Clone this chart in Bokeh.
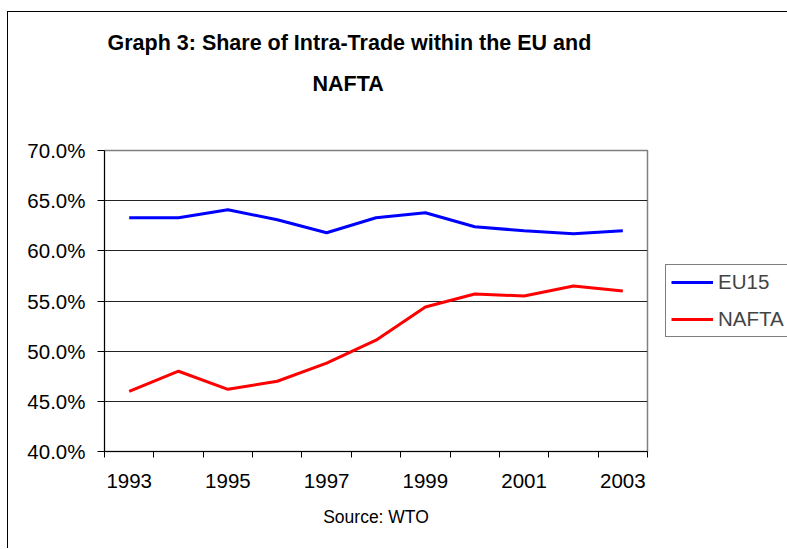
from bokeh.plotting import figure
from bokeh.models import (FixedTicker, PrintfTickFormatter, Legend, Title,
                          LegendItem, Range1d, ColumnDataSource)
from bokeh.embed import file_html
from bokeh.resources import INLINE

# ---- data ----
years = [1993, 1994, 1995, 1996, 1997, 1998, 1999, 2000, 2001, 2002, 2003]
eu15 = [63.3, 63.3, 64.1, 63.1, 61.8, 63.3, 63.8, 62.4, 62.0, 61.7, 62.0]
nafta = [46.0, 48.0, 46.2, 47.0, 48.8, 51.1, 54.4, 55.7, 55.5, 56.5, 56.0]
y_ticks = [40, 45, 50, 55, 60, 65, 70]
title_lines = ["Graph 3: Share of Intra-Trade within the EU and", "NAFTA"]
source_text = "Source: WTO"

FONT = "Liberation Sans"

idx = list(range(len(years)))
src = ColumnDataSource(data=dict(x=idx, eu15=eu15, nafta=nafta))

p = figure(frame_width=543, frame_height=301,
           min_border_left=96, min_border_right=139,
           min_border_top=138, min_border_bottom=97,
           x_range=Range1d(-0.5, len(years) - 0.5),
           y_range=Range1d(y_ticks[0], y_ticks[-1]),
           output_backend="svg", toolbar_location=None,
           background_fill_color="white", border_fill_color="white")
p.title = None
p.styles = {"border-left": "1.5px solid black", "border-top": "1.5px solid black",
            "margin-left": "7px", "margin-top": "11px"}

r1 = p.line("x", "eu15", source=src, line_color="#0000ff", line_width=3)
r2 = p.line("x", "nafta", source=src, line_color="#ff0000", line_width=3)

# x axis: ticks on category boundaries, labels every other year
labeled = idx[::2]
p.xaxis.ticker = FixedTicker(ticks=labeled,
                             minor_ticks=[i - 0.5 for i in range(len(years) + 1)])
p.xaxis.major_label_overrides = {i: str(years[i]) for i in labeled}
p.xaxis.major_tick_line_color = None
p.xaxis.minor_tick_line_color = "black"
p.xaxis.minor_tick_out = 6
p.xaxis.minor_tick_in = 0
p.xaxis.major_label_standoff = 16
p.xaxis.axis_line_color = "black"

# y axis
p.yaxis.ticker = FixedTicker(ticks=y_ticks)
p.yaxis.formatter = PrintfTickFormatter(format="%.1f%%")
p.yaxis.major_tick_out = 7
p.yaxis.major_tick_in = 0
p.yaxis.minor_tick_line_color = None
p.yaxis.major_label_standoff = 12
p.yaxis.axis_line_color = "black"

for ax in (p.xaxis, p.yaxis):
    ax.major_label_text_font = FONT
    ax.major_label_text_font_size = "20.5px"
    ax.major_label_text_color = "black"

p.xgrid.grid_line_color = None
p.ygrid.ticker = FixedTicker(ticks=y_ticks[1:-1])
p.ygrid.grid_line_color = "#222222"
p.ygrid.grid_line_width = 1
p.outline_line_color = "#808080"
p.outline_line_width = 1.5

legend = Legend(items=[LegendItem(label="EU15", renderers=[r1]),
                       LegendItem(label="NAFTA", renderers=[r2])],
                location=(18, 114), orientation="vertical",
                label_text_font=FONT, label_text_font_size="20.5px",
                glyph_width=42, glyph_height=20, label_standoff=5,
                padding=5, spacing=13, margin=0,
                border_line_color="black", border_line_width=1,
                background_fill_color="white", background_fill_alpha=1)
p.add_layout(legend, "right")

# titles: added nearest-first, stacked outward from the frame
p.add_layout(Title(text=" ", standoff=44, text_font_size="1px"), "above")
p.add_layout(Title(text=title_lines[1], align="left", offset=208,
                   standoff=15, text_font=FONT, text_font_style="bold",
                   text_font_size="21.5px", text_color="black"), "above")
p.add_layout(Title(text=title_lines[0], align="left", offset=3,
                   standoff=15, text_font=FONT, text_font_style="bold",
                   text_font_size="21.5px", text_color="black"), "above")
p.add_layout(Title(text=source_text, align="center",
                   standoff=28, text_font=FONT, text_font_style="normal",
                   text_font_size="17.5px", text_color="black"), "below")

open("out.html", "w").write(file_html(p, INLINE))
